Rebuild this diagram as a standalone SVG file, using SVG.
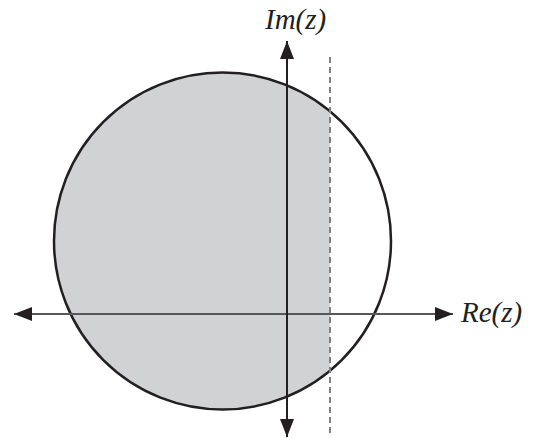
<svg xmlns="http://www.w3.org/2000/svg" width="536" height="438" viewBox="0 0 536 438">
<defs>
<style>
.lbl{font-family:'Liberation Serif','Times New Roman',Times,serif;font-style:italic;font-size:29px;fill:#231f20}
.axis{stroke-width:2;fill:none}
</style>
<marker id="ah" viewBox="0 0 18 14" refX="18" refY="7" markerWidth="18" markerHeight="14" markerUnits="userSpaceOnUse" orient="auto">
<path d="M0,0 L18,7 L0,14 Z" fill="#231f20"/>
</marker>
</defs>
<rect width="536" height="438" fill="#fff"/>
<g id="disk">
<path d="M330,111.25 A168.5,168.5 0 1 0 330,370.75 Z" fill="#d1d2d4"/>
<circle cx="222.5" cy="241" r="168.5" fill="none" stroke="#231f20" stroke-width="2.5"/>
</g>
<g id="connectors">
<line x1="330" y1="57" x2="330" y2="437" stroke="#808080" stroke-width="2" stroke-dasharray="6,4"/>
<line class="axis" x1="287" y1="314" x2="14" y2="314" stroke="#58585a" marker-end="url(#ah)"/>
<line class="axis" x1="287" y1="314" x2="453" y2="314" stroke="#58585a" marker-end="url(#ah)"/>
<line class="axis" x1="287" y1="314" x2="287" y2="41" stroke="#231f20" marker-end="url(#ah)"/>
<line class="axis" x1="287" y1="314" x2="287" y2="437" stroke="#231f20" marker-end="url(#ah)"/>
</g>
<g id="label-im"><text class="lbl" x="265" y="29">Im(z)</text></g>
<g id="label-re"><text class="lbl" x="461" y="322">Re(z)</text></g>
</svg>
